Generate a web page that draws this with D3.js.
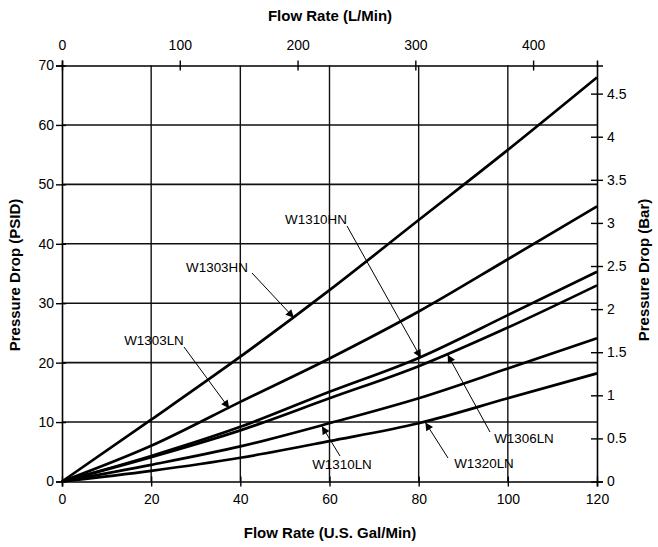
<!DOCTYPE html>
<html><head><meta charset="utf-8">
<script src="https://cdn.jsdelivr.net/npm/d3@7"></script>
<style>body{margin:0;background:#fff}svg{display:block}text{font-family:"Liberation Sans",Arial,sans-serif;fill:#000}</style>
</head><body><svg id="c" width="658" height="547"></svg>
<script>
const flowGpm = [0, 20, 40, 60, 80, 100, 120];
const seriesNames = ["W1303HN", "W1303LN", "W1310HN", "W1306LN", "W1310LN", "W1320LN"];
const W1303HN = [0, 10.4, 21.0, 32.2, 44.0, 55.8, 68.0];
const W1303LN = [0, 6.0, 13.4, 20.7, 28.6, 37.4, 46.3];
const W1310HN = [0, 4.3, 9.2, 15.1, 20.8, 28.0, 35.3];
const W1306LN = [0, 4.1, 8.6, 14.0, 19.4, 25.9, 33.0];
const W1310LN = [0, 2.8, 5.9, 9.8, 14.0, 19.0, 24.1];
const W1320LN = [0, 1.8, 4.0, 6.8, 9.8, 14.0, 18.2];
const seriesValues = [W1303HN, W1303LN, W1310HN, W1306LN, W1310LN, W1320LN];
const gpmTicks = [0, 20, 40, 60, 80, 100, 120];
const psiTicks = [0, 10, 20, 30, 40, 50, 60, 70];
const lpmTicks = [0, 100, 200, 300, 400];
const barTicks = [0, 0.5, 1, 1.5, 2, 2.5, 3, 3.5, 4, 4.5];
const L_PER_GAL = 3.78541, PSI_PER_BAR = 14.5038;
// annotation: label, flow at arrow tip (gpm)
const annoLabels = ["W1303HN", "W1303LN", "W1310HN", "W1306LN", "W1310LN", "W1320LN"];
const annoTipGpm = [52, 37.5, 80.5, 86.5, 58.3, 81.5];

const svg = d3.select("#c");
const L = 62, R = 597, T = 65.5, B = 481.5;
const x = d3.scaleLinear().domain([0, 120]).range([L, R]);
const y = d3.scaleLinear().domain([0, 70]).range([B, T]);
const xTop = d3.scaleLinear().domain([0, 120 * L_PER_GAL]).range([L, R]);
const yBar = d3.scaleLinear().domain([0, 70 / PSI_PER_BAR]).range([B, T]);

// grid
const g = svg.append("g");
g.selectAll("line.h").data(psiTicks.filter(d => d > 0 && d < 70)).join("line")
  .attr("x1", L).attr("x2", R).attr("y1", d => y(d)).attr("y2", d => y(d))
  .attr("stroke", "#111").attr("stroke-width", 1.6);
g.selectAll("line.v").data(gpmTicks.filter(d => d > 0 && d < 120)).join("line")
  .attr("x1", d => x(d)).attr("x2", d => x(d)).attr("y1", T).attr("y2", B)
  .attr("stroke", "#111").attr("stroke-width", 1.4);

// axes
const fs = "14px";
const axL = svg.append("g").attr("transform", `translate(${L},0)`)
  .call(d3.axisLeft(y).tickValues(psiTicks).tickSize(6).tickPadding(2));
const axB = svg.append("g").attr("transform", `translate(0,${B})`)
  .call(d3.axisBottom(x).tickValues(gpmTicks).tickSize(5).tickPadding(8));
const axT = svg.append("g").attr("transform", `translate(0,${T})`)
  .call(d3.axisTop(xTop).tickValues(lpmTicks).tickSize(5).tickPadding(11));
const axR = svg.append("g").attr("transform", `translate(${R},0)`)
  .call(d3.axisRight(yBar).tickValues(barTicks).tickFormat(d3.format("~g")).tickSize(6).tickPadding(2));
[axL, axB, axT, axR].forEach(a => {
  a.select(".domain").attr("stroke", "#000").attr("stroke-width", 1.6);
  a.selectAll(".tick line").attr("stroke", "#000").attr("stroke-width", 1.4);
  a.selectAll("text").attr("font-size", fs).attr("font-family", "Liberation Sans, Arial, sans-serif").attr("fill", "#000");
});
// cross ticks (inner part)
axL.selectAll(".tick").append("line").attr("x1", 0).attr("x2", 4).attr("stroke", "#000").attr("stroke-width", 1.4);
axR.selectAll(".tick").append("line").attr("x1", 0).attr("x2", -6).attr("stroke", "#000").attr("stroke-width", 1.4);
axT.selectAll(".tick").append("line").attr("y1", 0).attr("y2", 5).attr("stroke", "#000").attr("stroke-width", 1.4);
axB.selectAll(".tick").append("line").attr("y1", 0).attr("y2", -5).attr("stroke", "#000").attr("stroke-width", 1.4);
axR.selectAll(".tick text").attr("dx", 2);

// axis titles
const tfs = "15px";
svg.append("text").attr("x", 330).attr("y", 21).attr("text-anchor", "middle")
  .attr("font-size", tfs).attr("font-weight", "bold").text("Flow Rate (L/Min)");
svg.append("text").attr("x", 330).attr("y", 538).attr("text-anchor", "middle")
  .attr("font-size", tfs).attr("font-weight", "bold").text("Flow Rate (U.S. Gal/Min)");
svg.append("text").attr("transform", "translate(20,275) rotate(-90)").attr("text-anchor", "middle")
  .attr("font-size", tfs).attr("font-weight", "bold").text("Pressure Drop (PSID)");
svg.append("text").attr("transform", "translate(649,270) rotate(-90)").attr("text-anchor", "middle")
  .attr("font-size", tfs).attr("font-weight", "bold").text("Pressure Drop (Bar)");

// series
const line = d3.line().x((d, i) => x(flowGpm[i])).y(d => y(d)).curve(d3.curveMonotoneX);
svg.append("g").selectAll("path").data(seriesValues).join("path")
  .attr("d", line).attr("fill", "none").attr("stroke", "#000").attr("stroke-width", 2.7);

// annotations
svg.append("defs").append("marker").attr("id", "ah").attr("viewBox", "0 0 10 10")
  .attr("refX", 10).attr("refY", 5).attr("markerWidth", 9).attr("markerHeight", 8)
  .attr("markerUnits", "userSpaceOnUse").attr("orient", "auto")
  .append("path").attr("d", "M0,0L10,5L0,10z").attr("fill", "#000");
function valAt(vals, q) {
  return d3.scaleLinear().domain(flowGpm).range(vals)(q);
}
const annoPos = { // text anchor point, arrow start
  W1303HN: { tx: 217, ty: 272, sx: 252, sy: 273 },
  W1303LN: { tx: 154, ty: 345, sx: 184, sy: 347 },
  W1310HN: { tx: 316, ty: 224, sx: 347, sy: 226 },
  W1306LN: { tx: 524, ty: 443, sx: 490, sy: 432 },
  W1310LN: { tx: 342, ty: 469, sx: 340, sy: 456 },
  W1320LN: { tx: 484, ty: 468, sx: 448, sy: 458 }
};
const ag = svg.append("g");
annoLabels.forEach((name, i) => {
  const vals = seriesValues[seriesNames.indexOf(name)];
  const q = annoTipGpm[i];
  const p = annoPos[name];
  const tx = x(q), ty = y(valAt(vals, q)) + 1;
  ag.append("line").attr("x1", p.sx).attr("y1", p.sy).attr("x2", tx).attr("y2", ty)
    .attr("stroke", "#000").attr("stroke-width", 1).attr("marker-end", "url(#ah)");
  ag.append("text").attr("x", p.tx).attr("y", p.ty).attr("text-anchor", "middle")
    .attr("font-size", "13.4px").text(name);
});
</script></body></html>
